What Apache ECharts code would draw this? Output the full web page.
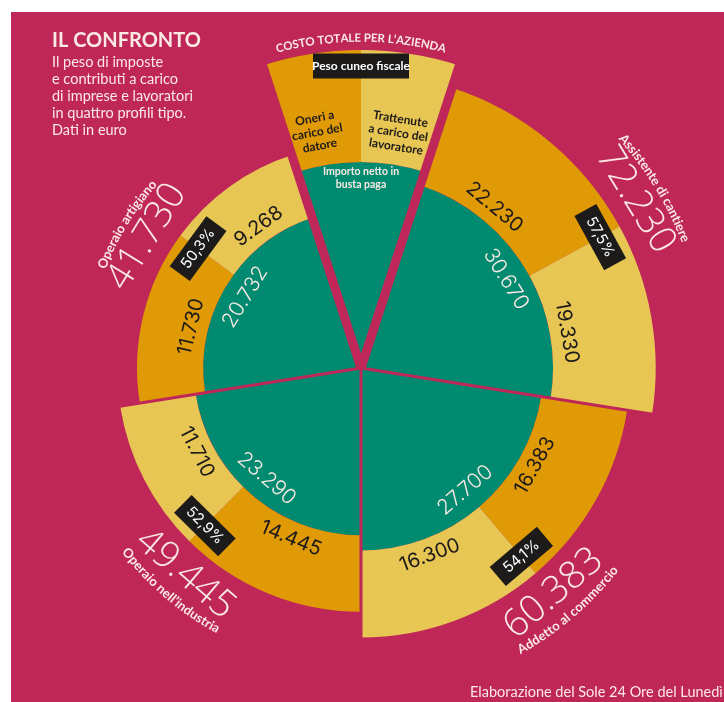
<!DOCTYPE html>
<html>
<head>
<meta charset="utf-8">
<script src="https://cdn.jsdelivr.net/npm/echarts@6.0.0/dist/echarts.min.js"></script>
<style>
html, body { margin: 0; padding: 0; background: #fff; }
#chart { width: 724px; height: 702px; }
</style>
</head>
<body>
<div id="chart"></div>
<script>
// dati (euro)
var profili = ['Assistente di cantiere', 'Addetto al commercio', 'Operaio nell’industria', 'Operaio artigiano'];
var costoTotale = [72230, 60383, 49445, 41730];
var nettoBusta = [30670, 27700, 23290, 20732];
var oneriDatore = [22230, 16383, 14445, 11730];
var trattenuteLavoratore = [19330, 16300, 11710, 9268];
var cuneoFiscale = ['57,5%', '54,1%', '52,9%', '50,3%'];

var PINK = '#BF2758', GREEN = '#008B70', ORANGE = '#DF9A06', YELLOW = '#E7C654';
var DARK = '#1D1A1A', CREAM = '#FBE9E4';

// geometria: spicchio legenda in alto, i 4 profili si dividono il resto
var LEG_HALF = 18;
var SPAN = (360 - 2 * LEG_HALF) / 4;
var LEG_R_IN = 206, LEG_R_OUT = 318;

var ctx = document.createElement('canvas').getContext('2d');

function fmt(v) {
  return String(v).replace(/\B(?=(\d{3})+(?!\d))/g, '.');
}
function pt(cx, cy, r, th) {
  var a = th * Math.PI / 180;
  return [cx + r * Math.sin(a), cy - r * Math.cos(a)];
}
function sector(cx, cy, r0, r, t0, t1, fill) {
  return {
    type: 'sector',
    shape: { cx: cx, cy: cy, r0: r0, r: r, startAngle: (t0 - 90) * Math.PI / 180, endAngle: (t1 - 90) * Math.PI / 180, clockwise: true },
    style: { fill: fill }
  };
}
function ray(cx, cy, th, r, w) {
  var p = pt(cx, cy, r, th);
  return { type: 'line', shape: { x1: cx, y1: cy, x2: p[0], y2: p[1] }, style: { stroke: PINK, lineWidth: w } };
}
function rot(th, flip) {
  return (flip ? 180 - th : -th) * Math.PI / 180;
}
// testo dritto, tangente al cerchio
function tanText(str, cx, cy, r, th, flip, font, fill) {
  var p = pt(cx, cy, r, th);
  return {
    type: 'text', x: p[0], y: p[1], rotation: rot(th, flip),
    style: { text: str, font: font, fill: fill, align: 'center', verticalAlign: 'middle' }
  };
}
// testo lungo un arco, un carattere alla volta
function arcText(str, cx, cy, r, mid, flip, font, fill) {
  ctx.font = font;
  var ws = str.split('').map(function (ch) { return ctx.measureText(ch).width; });
  var total = ws.reduce(function (a, b) { return a + b; }, 0);
  var out = [], s = 0;
  for (var k = 0; k < str.length; k++) {
    var d = (s + ws[k] / 2 - total / 2) / r * 180 / Math.PI;
    var th = flip ? mid - d : mid + d;
    out.push(tanText(str[k], cx, cy, r, th, flip, font, fill));
    s += ws[k];
  }
  return out;
}
function badge(p, rotation, text, w, h, font) {
  return {
    type: 'group', x: p[0], y: p[1], rotation: rotation,
    children: [
      { type: 'rect', shape: { x: -w / 2, y: -h / 2, width: w, height: h }, style: { fill: DARK } },
      { type: 'text', style: { text: text, x: 0, y: 0, align: 'center', verticalAlign: 'middle', font: font, fill: '#fff' } }
    ]
  };
}

function renderProfilo(params, api) {
  var i = params.dataIndex;
  var cx = params.coordSys.cx, cy = params.coordSys.cy;
  var a0 = LEG_HALF + SPAN * i, a1 = a0 + SPAN, mid = (a0 + a1) / 2;
  var split = a0 + SPAN * oneriDatore[i] / (oneriDatore[i] + trattenuteLavoratore[i]);
  var po = api.coord([api.value(0), mid]);
  var pi = api.coord([api.value(1), mid]);
  var rOut = Math.hypot(po[0] - cx, po[1] - cy);
  var rIn = Math.hypot(pi[0] - cx, pi[1] - cy);
  var flip = mid > 90 && mid < 270;

  var kids = [
    sector(cx, cy, 0, rIn, a0, a1, GREEN),
    sector(cx, cy, rIn, rOut, a0, split, ORANGE),
    sector(cx, cy, rIn, rOut, split, a1, YELLOW)
  ];
  kids.push(tanText(fmt(nettoBusta[i]), cx, cy, rIn - 22, mid, flip, '300 21px Inter', CREAM));
  kids.push(tanText(fmt(oneriDatore[i]), cx, cy, rIn + 17, (a0 + split) / 2, flip, '20px Inter', DARK));
  kids.push(tanText(fmt(trattenuteLavoratore[i]), cx, cy, rIn + 17, (split + a1) / 2, flip, '20px Inter', DARK));
  kids.push(badge(pt(cx, cy, rOut - 22, split), rot(split, flip), cuneoFiscale[i], 62, 25, '15px Inter'));
  kids.push(tanText(fmt(costoTotale[i]), cx, cy, rOut + 27, mid, flip, '300 38px "Open Sans"', CREAM));
  kids = kids.concat(arcText(profili[i], cx, cy, rOut + 54, mid, flip, 'bold 13px Lato', CREAM));
  return { type: 'group', children: kids };
}

function renderLegenda(params, api) {
  var cx = params.coordSys.cx, cy = params.coordSys.cy;
  var kids = [
    sector(cx, cy, 0, LEG_R_IN, -LEG_HALF, LEG_HALF, GREEN),
    sector(cx, cy, LEG_R_IN, LEG_R_OUT, -LEG_HALF, 0, ORANGE),
    sector(cx, cy, LEG_R_IN, LEG_R_OUT, 0, LEG_HALF, YELLOW)
  ];
  kids.push(ray(cx, cy, -LEG_HALF, LEG_R_OUT + 8, 9));
  kids.push(ray(cx, cy, LEG_HALF, LEG_R_OUT + 8, 9));
  for (var i = 1; i < profili.length; i++) {
    kids.push(ray(cx, cy, LEG_HALF + SPAN * i, 300, 3));
  }
  kids = kids.concat(arcText('COSTO TOTALE PER L’AZIENDA', cx, cy, 330, 0, false, 'bold 11.5px Lato', CREAM));
  kids.push(badge(pt(cx, cy, 302, 0), 0, 'Peso cuneo fiscale', 96, 25, 'bold 12px Lato'));
  var p1 = pt(cx, cy, 240, -10.5), p2 = pt(cx, cy, 238, 9), p3 = pt(cx, cy, 190, 0);
  kids.push({ type: 'text', x: p1[0], y: p1[1], rotation: rot(-10.5, false),
    style: { text: 'Oneri a\ncarico del\ndatore', font: 'bold 12px Lato', lineHeight: 14, fill: DARK, align: 'center', verticalAlign: 'middle' } });
  kids.push({ type: 'text', x: p2[0], y: p2[1], rotation: rot(9, false),
    style: { text: 'Trattenute\na carico del\nlavoratore', font: 'bold 12px Lato', lineHeight: 14, fill: DARK, align: 'center', verticalAlign: 'middle' } });
  kids.push({ type: 'text', x: p3[0], y: p3[1],
    style: { text: 'Importo netto in\nbusta paga', font: 'bold 10.5px Lato', lineHeight: 13, fill: CREAM, align: 'center', verticalAlign: 'middle' } });
  return { type: 'group', children: kids };
}

var chart = echarts.init(document.getElementById('chart'));
chart.setOption({
  animation: false,
  backgroundColor: '#fff',
  graphic: [
    { type: 'rect', z: -10, shape: { x: 11, y: 12, width: 713, height: 690 }, style: { fill: PINK } },
    { type: 'text', z: 10, x: 470, y: 692, style: { text: 'Elaborazione del Sole 24 Ore del Lunedì', font: '14.5px Lato', fill: CREAM, verticalAlign: 'middle' } }
  ],
  title: {
    left: 47, top: 26,
    text: 'IL CONFRONTO',
    subtext: 'Il peso di imposte\ne contributi a carico\ndi imprese e lavoratori\nin quattro profili tipo.\nDati in euro',
    itemGap: 3,
    textStyle: { fontFamily: 'Lato', fontSize: 20, fontWeight: 'bold', color: CREAM },
    subtextStyle: { fontFamily: 'Lato', fontSize: 14.5, lineHeight: 17, color: CREAM }
  },
  polar: { center: [361, 368], radius: 318 },
  angleAxis: { type: 'value', min: 0, max: 360, startAngle: 90, clockwise: true, show: false },
  radiusAxis: { type: 'value', min: 0, max: 290, show: false },
  series: [
    {
      type: 'custom',
      coordinateSystem: 'polar',
      silent: true,
      renderItem: renderProfilo,
      data: profili.map(function (p, i) { return [Math.sqrt(costoTotale[i]), Math.sqrt(nettoBusta[i])]; })
    },
    {
      type: 'custom',
      coordinateSystem: 'polar',
      silent: true,
      z: 3,
      renderItem: renderLegenda,
      data: [[0, 0]]
    }
  ]
});
</script>
</body>
</html>
